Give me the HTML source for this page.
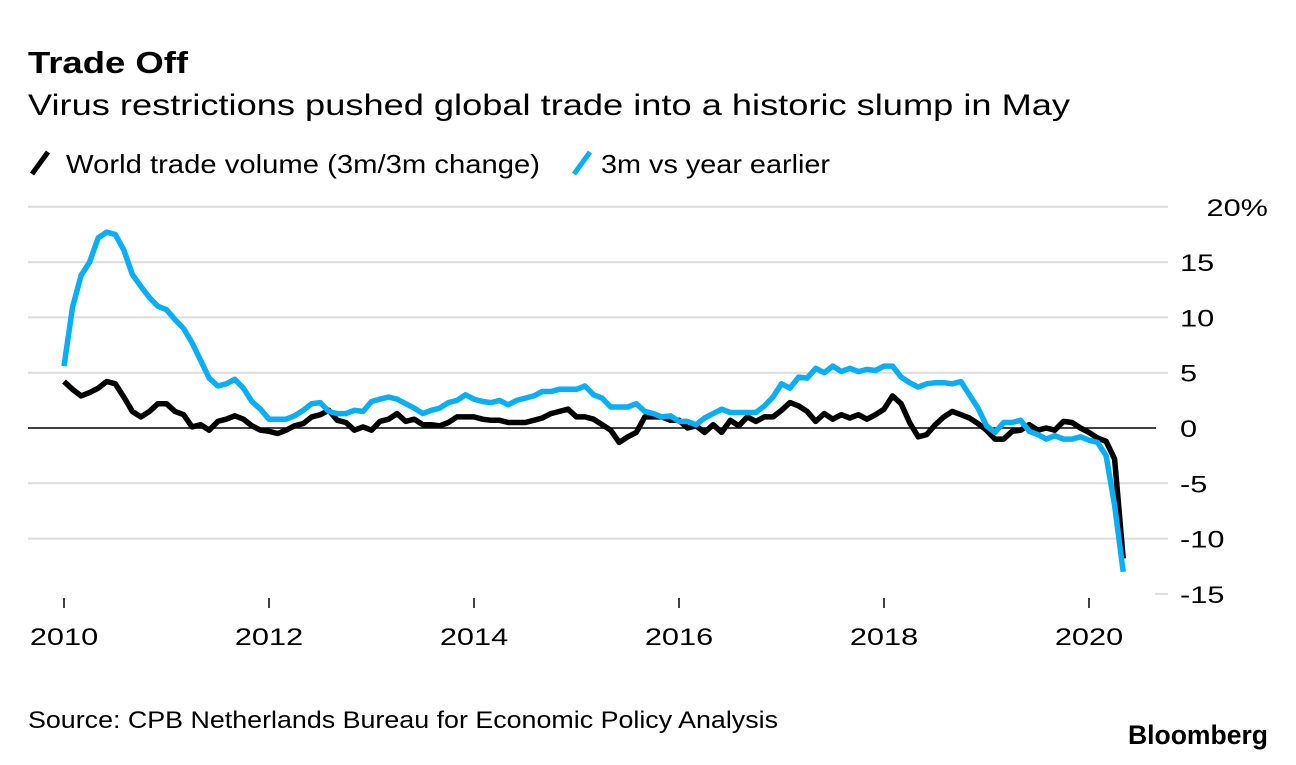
<!DOCTYPE html>
<html><head><meta charset="utf-8"><style>
body{margin:0;background:#fff;font-family:"Liberation Sans",sans-serif;}
svg text{font-family:"Liberation Sans",sans-serif;}
</style></head><body>
<svg width="1296" height="760">
<text x="28" y="73" font-size="31" font-weight="bold" fill="#000" textLength="160" lengthAdjust="spacingAndGlyphs">Trade Off</text>
<text x="28" y="115" font-size="30" fill="#000" textLength="1042" lengthAdjust="spacingAndGlyphs">Virus restrictions pushed global trade into a historic slump in May</text>
<g>
<line x1="32" y1="174" x2="48" y2="152" stroke="#000" stroke-width="5"/>
<text x="66" y="173" font-size="26" textLength="474" lengthAdjust="spacingAndGlyphs">World trade volume (3m/3m change)</text>
<line x1="574" y1="174" x2="590" y2="152" stroke="#0aaef5" stroke-width="5"/>
<text x="601" y="173" font-size="26" textLength="229" lengthAdjust="spacingAndGlyphs">3m vs year earlier</text>
</g>
<g id="grid"></g><g id="axes"></g><g id="lines"></g>
<text x="28" y="728" font-size="24" textLength="750" lengthAdjust="spacingAndGlyphs">Source: CPB Netherlands Bureau for Economic Policy Analysis</text>
<text x="1128" y="744" font-size="27" font-weight="bold" textLength="140" lengthAdjust="spacingAndGlyphs">Bloomberg</text>
</svg>
<script>
const yTicks=[20,15,10,5,0,-5,-10,-15];
const yTickLabels=["20%","15","10","5","0","-5","-10","-15"];
const xTicks=[2010,2012,2014,2016,2018,2020];
const world=[4.2,3.5,2.9,3.2,3.6,4.2,4.0,2.8,1.5,1.0,1.5,2.2,
2.2,1.5,1.2,0.1,0.3,-0.2,0.6,0.8,1.1,0.8,0.2,-0.2,
-0.3,-0.5,-0.2,0.2,0.4,1.0,1.2,1.6,0.7,0.5,-0.2,0.1,
-0.2,0.6,0.8,1.3,0.6,0.8,0.3,0.3,0.2,0.5,1.0,1.0,
1.0,0.8,0.7,0.7,0.5,0.5,0.5,0.7,0.9,1.3,1.5,1.7,
1.0,1.0,0.8,0.3,-0.2,-1.3,-0.8,-0.4,1.0,1.0,1.0,0.7,
0.7,0.0,0.2,-0.4,0.3,-0.4,0.7,0.2,1.0,0.6,1.0,1.0,
1.6,2.3,2.0,1.5,0.6,1.3,0.8,1.2,0.9,1.2,0.8,1.2,
1.7,2.9,2.2,0.5,-0.8,-0.6,0.3,1.0,1.5,1.2,0.9,0.4,
-0.2,-1.0,-1.0,-0.3,-0.2,0.3,-0.2,0.0,-0.2,0.6,0.5,0.0,
-0.4,-0.9,-1.2,-2.8,-11.8];
const yoy=[5.6,10.9,13.8,15.0,17.2,17.7,17.5,16.1,13.9,12.8,11.8,11.0,
10.7,9.8,9.0,7.7,6.1,4.5,3.8,4.0,4.4,3.6,2.4,1.7,
0.8,0.8,0.8,1.1,1.6,2.2,2.3,1.5,1.3,1.3,1.6,1.5,
2.4,2.6,2.8,2.6,2.2,1.8,1.3,1.6,1.8,2.3,2.5,3.0,
2.6,2.4,2.3,2.5,2.1,2.5,2.7,2.9,3.3,3.3,3.5,3.5,
3.5,3.8,3.0,2.7,1.9,1.9,1.9,2.2,1.5,1.3,1.0,1.1,
0.6,0.6,0.3,0.9,1.3,1.7,1.4,1.4,1.4,1.4,2.0,2.8,
4.0,3.6,4.6,4.5,5.4,5.0,5.6,5.1,5.4,5.1,5.3,5.2,
5.6,5.6,4.6,4.1,3.7,4.0,4.1,4.1,4.0,4.2,3.0,1.8,
0.2,-0.4,0.5,0.5,0.7,-0.3,-0.6,-1.0,-0.7,-1.0,-1.0,-0.8,
-1.1,-1.3,-2.5,-7.0,-13.0];
const NS="http://www.w3.org/2000/svg";
const Y=v=>428-v*11.06;
const X=t=>64+(t-2010)*102.5;
function mk(tag,attrs,parent){const e=document.createElementNS(NS,tag);for(const k in attrs)e.setAttribute(k,attrs[k]);document.getElementById(parent).appendChild(e);return e;}
function widen(t){const w=t.getComputedTextLength();t.setAttribute('textLength',(w*1.28).toFixed(1));t.setAttribute('lengthAdjust','spacingAndGlyphs');}
yTicks.forEach((v,i)=>{
 const last=i===yTicks.length-1;
 const g=mk('line',{x1:last?1155:28,x2:1168,y1:Y(v),y2:Y(v),stroke:v===0?'#000':'#dcdcdc','stroke-width':v===0?1.5:2},'grid');
 if(v===0)g.setAttribute('x2',1156);
 
 
 const t=mk('text',{x:v===20?1268:1180,y:Y(v)+9,'font-size':24,'text-anchor':v===20?'end':'start'},'axes');
 t.textContent=yTickLabels[i];
 
 
 widen(t);
});
xTicks.forEach(yr=>{
 const l=mk('line',{x1:X(yr),x2:X(yr),y1:598,y2:608,stroke:'#000','stroke-width':1.5},'axes');
 
 
 const t=mk('text',{x:X(yr),y:645,'font-size':24,'text-anchor':'middle'},'axes');
 t.textContent=yr;
 
 
 widen(t);
});
function path(arr,color,name){
 const d=arr.map((v,i)=>(i?'L':'M')+X(2010+i/12).toFixed(1)+' '+Y(v).toFixed(1)).join(' ');
 const p=mk('path',{d:d,fill:'none',stroke:color,'stroke-width':5.5,'stroke-linejoin':'round'},'lines');
 
 
}
path(world,'#000','world-trade-line');
path(yoy,'#0aaef5','year-earlier-line');
</script>
</body></html>
